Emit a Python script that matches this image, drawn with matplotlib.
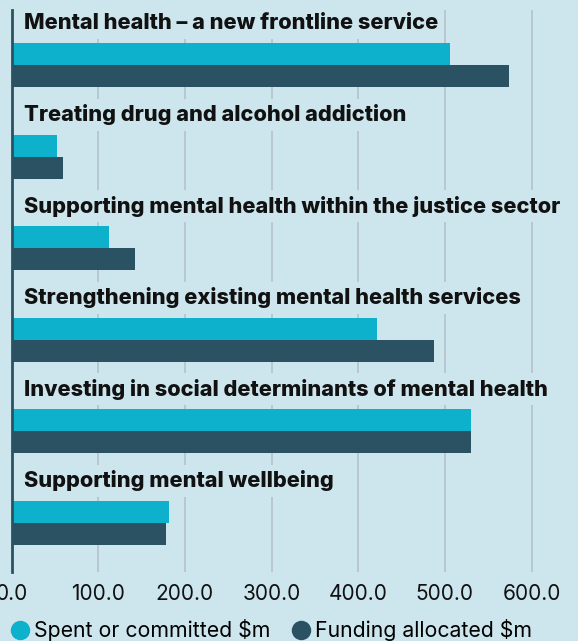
import numpy as np
import matplotlib.pyplot as plt
from matplotlib.lines import Line2D

plt.rcParams['font.family'] = ['Inter', 'DejaVu Sans']

categories = [
    "Mental health \u2013 a new frontline service",
    "Treating drug and alcohol addiction",
    "Supporting mental health within the justice sector",
    "Strengthening existing mental health services",
    "Investing in social determinants of mental health",
    "Supporting mental wellbeing",
]
spent = [506, 52, 113, 422, 530, 182]
allocated = [574, 59, 142, 487, 530, 178]
ticks = [0, 100, 200, 300, 400, 500, 600]

bg = '#cde5ed'
c_spent = '#0eb1cb'
c_alloc = '#2b5263'

W, H = 578, 641
fig = plt.figure(figsize=(W/100, H/100), dpi=100, facecolor=bg)
# axes: x=0 at px 11.5, 100 units = 86.67 px; top px 10, bottom px 572
x0 = 11.5
ppu = 0.8667
ax = fig.add_axes([x0/W, 1 - 572/H, (W - x0)/W, (572 - 10)/H])
ax.set_facecolor(bg)

pitch = 91.5
bh = 22 / pitch
y = np.arange(len(categories))
ax.barh(y, spent, height=bh, align='edge', color=c_spent, zorder=3)
ax.barh(y + bh, allocated, height=bh, align='edge', color=c_alloc, zorder=3)

for i, cat in enumerate(categories):
    ax.text(12 / ppu, i - 20 / pitch, cat, fontsize=15.7, fontweight='heavy',
            va='center', ha='left', color='#111111', zorder=4,
            bbox=dict(facecolor=bg, edgecolor='none', pad=4))

ax.set_xlim(0, (W - x0) / ppu)
ax.set_ylim((572 - 43.3) / pitch, (10 - 43.3) / pitch)
ax.set_xticks(ticks)
ax.set_xticklabels([f"{t:.1f}" for t in ticks], fontsize=15, color='#111111')
ax.tick_params(axis='x', length=0, pad=9)
ax.set_yticks([])
ax.grid(axis='x', color='#b5c3c8', linewidth=1.2, zorder=1)
for s in ['top', 'right', 'bottom']:
    ax.spines[s].set_visible(False)
ax.spines['left'].set_color(c_alloc)
ax.spines['left'].set_linewidth(2)
ax.spines['left'].set_zorder(5)

handles = [
    Line2D([], [], marker='o', linestyle='none', markersize=14,
           markerfacecolor=c_spent, markeredgecolor='none'),
    Line2D([], [], marker='o', linestyle='none', markersize=14,
           markerfacecolor=c_alloc, markeredgecolor='none'),
]
fig.legend(handles, ["Spent or committed \\$m", "Funding allocated \\$m"],
           loc='center left', bbox_to_anchor=(0.013, 1 - 630/H), ncol=2,
           frameon=False, fontsize=15.3, handletextpad=0.25, columnspacing=1.05,
           borderaxespad=0, borderpad=0.2, handlelength=0.8)

fig.savefig('out.png', dpi=100, facecolor=bg)
